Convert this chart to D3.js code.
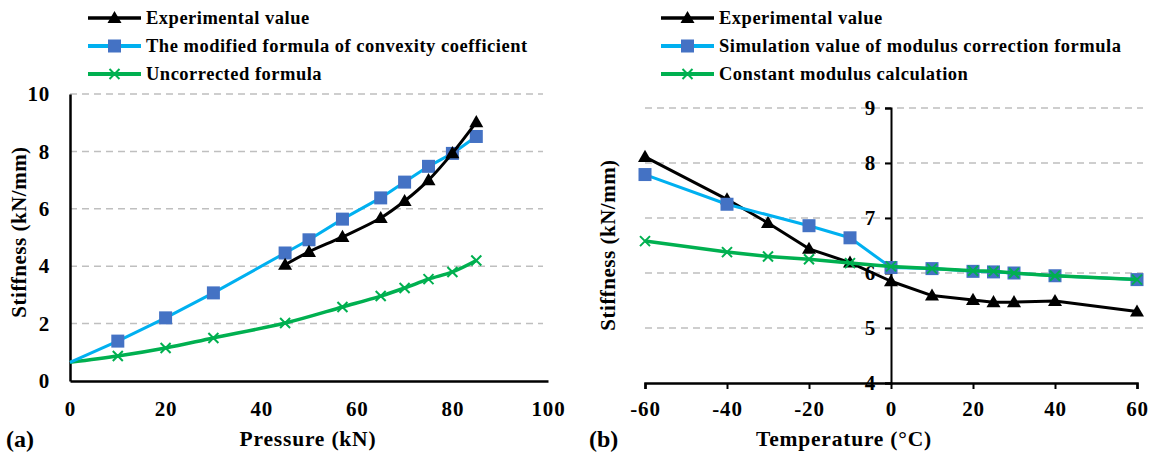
<!DOCTYPE html>
<html>
<head>
<meta charset="utf-8">
<script src="https://cdn.jsdelivr.net/npm/d3@7"></script>
<style>
  body { margin: 0; background: #fff; }
  text { font-family: "Liberation Serif", serif; font-weight: bold; fill: #000; }
</style>
</head>
<body>
<div id="chart"></div>
<script>
// ---- data, panel (a): stiffness vs pressure
const pressA = [45, 50, 57, 65, 70, 75, 80, 85];
const expA = [4.05, 4.5, 5.02, 5.68, 6.27, 7.0, 7.94, 9.02];
const pressB = [0, 10, 20, 30, 45, 50, 57, 65, 70, 75, 80, 85];
const modA = [0.65, 1.39, 2.2, 3.07, 4.46, 4.92, 5.64, 6.38, 6.93, 7.48, 7.93, 8.52];
const pressC = [0, 10, 20, 30, 45, 57, 65, 70, 75, 80, 85];
const uncA = [0.65, 0.87, 1.15, 1.5, 2.02, 2.58, 2.96, 3.24, 3.55, 3.8, 4.2];
const xTicksA = [0, 20, 40, 60, 80, 100];
const yTicksA = [0, 2, 4, 6, 8, 10];
const legendA = ["Experimental value", "The modified formula of convexity coefficient", "Uncorrected formula"];

// ---- data, panel (b): stiffness vs temperature
const tempExp = [-60, -40, -30, -20, -10, 0, 10, 20, 25, 30, 40, 60];
const expB = [8.11, 7.34, 6.91, 6.44, 6.19, 5.85, 5.59, 5.51, 5.47, 5.47, 5.49, 5.3];
const tempSim = [-60, -40, -20, -10, 0, 10, 20, 25, 30, 40, 60];
const simB = [7.79, 7.25, 6.86, 6.64, 6.1, 6.08, 6.03, 6.02, 6.0, 5.95, 5.88];
const tempCon = [-60, -40, -30, -20, -10, 0, 10, 20, 25, 30, 40, 60];
const conB = [6.58, 6.38, 6.3, 6.25, 6.18, 6.12, 6.08, 6.04, 6.03, 6.0, 5.95, 5.88];
const xTicksB = [-60, -40, -20, 0, 20, 40, 60];
const yTicksB = [4, 5, 6, 7, 8, 9];
const legendB = ["Experimental value", "Simulation value of modulus correction formula", "Constant modulus calculation"];

const width = 1156, height = 453;
const black = "#000", blue = "#00B0F0", sqFill = "#4472C4", green = "#00B050", grid = "#bfbfbf";

const svg = d3.select("#chart").append("svg")
  .attr("width", width).attr("height", height);

// zip x/y arrays into points
const pts = (xs, ys) => xs.map((x, i) => ({x: x, y: ys[i]}));

// plain hyphen minus like the original, no decimals
const fmt = d => String(d);

// tick label styling shared by all axes
const tickText = a => a.selectAll("text")
  .attr("font-size", "21px").attr("font-family", "Liberation Serif")
  .attr("font-weight", "bold").attr("letter-spacing", "0.8px");

// draw one series: line + markers
function series(g, x, y, data, color, lw, curve, marker) {
  g.append("path")
    .datum(data)
    .attr("fill", "none")
    .attr("stroke", color)
    .attr("stroke-width", lw)
    .attr("stroke-linejoin", "round")
    .attr("d", d3.line().x(d => x(d.x)).y(d => y(d.y)).curve(curve));
  const m = data.filter(d => !(marker.skipZero && d.x === 0));
  drawMarkers(g, m.map(d => [x(d.x), y(d.y)]), marker.type);
}

function drawMarkers(g, coords, type) {
  coords.forEach(([cx, cy]) => {
    if (type === "tri") {
      g.append("path").attr("d", d3.symbol(d3.symbolTriangle, 85)())
        .attr("transform", `translate(${cx},${cy + 1})`).attr("fill", black);
    } else if (type === "sq") {
      g.append("rect").attr("x", cx - 6.5).attr("y", cy - 6.5)
        .attr("width", 13).attr("height", 13).attr("fill", sqFill);
    } else {
      g.append("path").attr("d", `M${cx - 5},${cy - 5}L${cx + 5},${cy + 5}M${cx - 5},${cy + 5}L${cx + 5},${cy - 5}`)
        .attr("stroke", green).attr("stroke-width", 2);
    }
  });
}

function legend(g, x0, labels) {
  const styles = [[black, 3.5, "tri"], [blue, 4, "sq"], [green, 4, "x"]];
  const ys = [18, 46, 74];
  labels.forEach((lab, i) => {
    const [c, w, t] = styles[i];
    g.append("line").attr("x1", x0).attr("x2", x0 + 53).attr("y1", ys[i]).attr("y2", ys[i])
      .attr("stroke", c).attr("stroke-width", w);
    drawMarkers(g, [[x0 + 26.5, ys[i]]], t);
    g.append("text").attr("x", x0 + 58).attr("y", ys[i] + 6)
      .attr("font-size", "18.5px").attr("letter-spacing", "0.5px").text(lab);
  });
}

// ================= panel (a)
const xA = d3.scaleLinear().domain([0, 100]).range([70, 548]);
const yA = d3.scaleLinear().domain([0, 10]).range([381, 94]);
const gA = svg.append("g");

gA.selectAll(".gridA").data(yTicksA.filter(v => v > 0)).enter().append("line")
  .attr("x1", xA(0)).attr("x2", 543)
  .attr("y1", d => yA(d)).attr("y2", d => yA(d))
  .attr("stroke", grid).attr("stroke-width", 1.5).attr("stroke-dasharray", "7,5");

gA.append("g")
  .attr("transform", `translate(0,${yA(0)})`)
  .call(d3.axisBottom(xA).tickValues(xTicksA).tickFormat(fmt).tickSize(0).tickPadding(20))
  .call(a => a.select(".domain").attr("stroke", black).attr("stroke-width", 2.5))
  .call(tickText);

gA.append("g")
  .attr("transform", `translate(${xA(0)},0)`)
  .call(d3.axisLeft(yA).tickValues(yTicksA).tickFormat(fmt).tickSize(0).tickPadding(20))
  .call(a => a.select(".domain").attr("stroke", black).attr("stroke-width", 2.5))
  .call(tickText);

series(gA, xA, yA, pts(pressC, uncA), green, 3.5, d3.curveCatmullRom, {type: "x", skipZero: true});
series(gA, xA, yA, pts(pressB, modA), blue, 3, d3.curveLinear, {type: "sq", skipZero: true});
series(gA, xA, yA, pts(pressA, expA), black, 3, d3.curveCatmullRom, {type: "tri"});

gA.append("text").attr("x", 308).attr("y", 446).attr("text-anchor", "middle")
  .attr("font-size", "21.5px").attr("letter-spacing", "0.8px").text("Pressure (kN)");
gA.append("text").attr("transform", "translate(26,232) rotate(-90)").attr("text-anchor", "middle")
  .attr("font-size", "21px").attr("letter-spacing", "0.5px").text("Stiffness (kN/mm)");
gA.append("text").attr("x", 6).attr("y", 447).attr("font-size", "24px").text("(a)");
legend(gA, 88, legendA);

// ================= panel (b)
const xB = d3.scaleLinear().domain([-60, 60]).range([645, 1137]);
const yB = d3.scaleLinear().domain([4, 9]).range([383, 108]);
const gB = svg.append("g");

gB.selectAll(".gridB").data(yTicksB.filter(v => v > 4)).enter().append("line")
  .attr("x1", 645).attr("x2", 1143)
  .attr("y1", d => yB(d)).attr("y2", d => yB(d))
  .attr("stroke", grid).attr("stroke-width", 1.5).attr("stroke-dasharray", "7,5");

gB.append("g")
  .attr("transform", `translate(0,${yB(4)})`)
  .call(d3.axisBottom(xB).tickValues(xTicksB).tickFormat(fmt).tickSize(6).tickPadding(12))
  .call(a => a.select(".domain").attr("stroke", black).attr("stroke-width", 2.5))
  .call(a => a.selectAll(".tick line").attr("stroke", black).attr("stroke-width", 2))
  .call(tickText);

gB.append("g")
  .attr("transform", `translate(${xB(0)},0)`)
  .call(d3.axisLeft(yB).tickValues(yTicksB).tickFormat(fmt).tickSize(6).tickPadding(9))
  .call(a => a.select(".domain").attr("stroke", black).attr("stroke-width", 2))
  .call(a => a.selectAll(".tick line").attr("stroke", black).attr("stroke-width", 2))
  .call(tickText);

series(gB, xB, yB, pts(tempExp, expB), black, 3, d3.curveLinear, {type: "tri"});
series(gB, xB, yB, pts(tempSim, simB), blue, 3, d3.curveLinear, {type: "sq"});
series(gB, xB, yB, pts(tempCon, conB), green, 3.5, d3.curveLinear, {type: "x"});

gB.append("text").attr("x", 844).attr("y", 446).attr("text-anchor", "middle")
  .attr("font-size", "21.5px").attr("letter-spacing", "0.8px").text("Temperature (°C)");
gB.append("text").attr("transform", "translate(615,245) rotate(-90)").attr("text-anchor", "middle")
  .attr("font-size", "21px").attr("letter-spacing", "0.5px").text("Stiffness (kN/mm)");
gB.append("text").attr("x", 589).attr("y", 447).attr("font-size", "24px").text("(b)");
legend(gB, 661, legendB);
</script>
</body>
</html>
